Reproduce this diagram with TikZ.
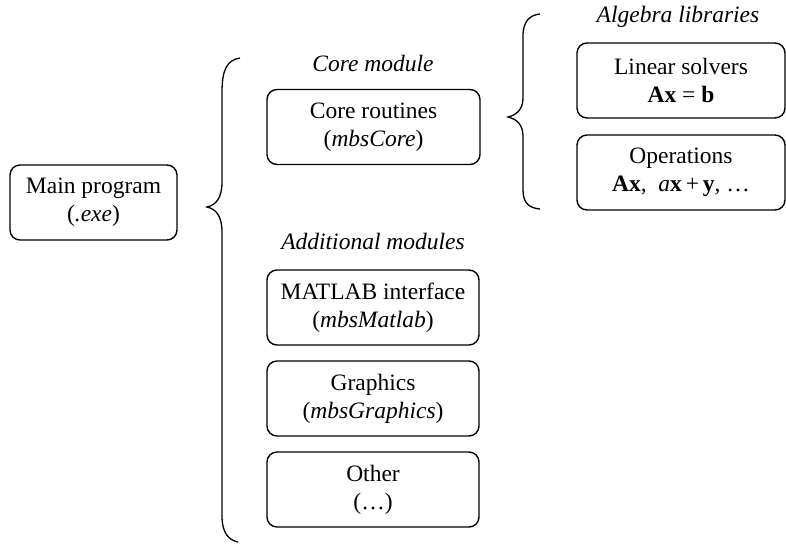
\documentclass[tikz,border=0pt]{standalone}
\usepackage{fontspec}
\setmainfont{Liberation Serif}
\begin{document}
\begin{tikzpicture}[x=1pt,y=-1pt,
  box/.style={draw,line width=1.4pt,rounded corners=10pt,minimum width=#1,minimum height=75pt,align=center,inner sep=0pt,font=\fontsize{23.5}{28}\selectfont},
  box/.default=212pt,
  lbl/.style={font=\fontsize{23.5}{28}\selectfont\itshape,inner sep=0pt},
  brace/.style={line width=1.3pt}]
\useasboundingbox (0,0) rectangle (786,544);
\node[box=167pt] (main) at (93.5,202.5) {Main program\\(\textit{.exe})};
\node[lbl] (lcore) at (373,63) {Core module};
\node[box=213pt] (core) at (373.5,127) {Core routines\\(\textit{mbsCore})};
\node[lbl] (ladd) at (373,241) {Additional modules};
\node[box] (matlab) at (373,307.5) {MATLAB interface\\(\textit{mbsMatlab})};
\node[box] (graphics) at (373,398.5) {Graphics\\(\textit{mbsGraphics})};
\node[box] (other) at (373,489.5) {Other\\(\ldots)};
\node[lbl] (lalg) at (678,17) {Algebra libraries};
\node[box=208pt] (lin) at (681,80.5) {Linear solvers\\\textbf{Ax} = \textbf{b}};
\node[box=208pt] (ops) at (681,172.5) {Operations\\\textbf{Ax},\ \ \textit{a}\textbf{x}\,+\,\textbf{y}, \ldots};
% big brace
\draw[brace] (240,58) .. controls (228,60) and (222,68) .. (222,92) -- (222,182)
  .. controls (222,198) and (216,205) .. (207,207)
  .. controls (216,209) and (222,216) .. (222,232) -- (222,516)
  .. controls (222,532) and (228,540) .. (238,542);
% small brace
\draw[brace] (540,14) .. controls (530,15) and (523,21) .. (523,36) -- (523,98)
  .. controls (523,110) and (516,115) .. (508,117)
  .. controls (516,119) and (523,124) .. (523,136) -- (523,190)
  .. controls (523,204) and (530,208) .. (540,209);
\end{tikzpicture}
\end{document}
